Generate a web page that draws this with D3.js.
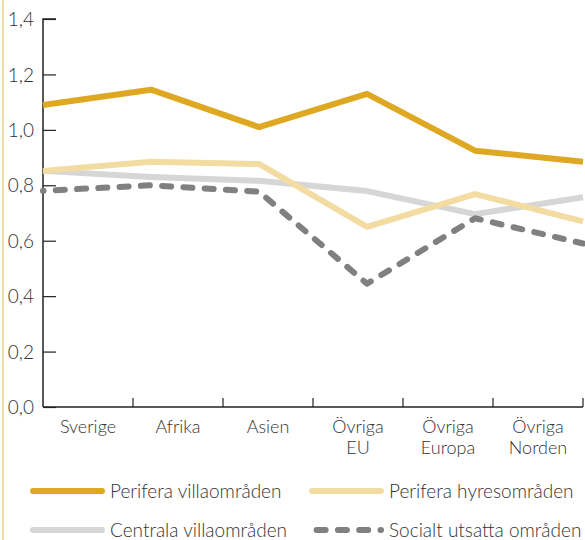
<!DOCTYPE html>
<html><head><meta charset="utf-8">
<script src="https://cdn.jsdelivr.net/npm/d3@7"></script>
<style>
body{margin:0;background:#fff;}
svg{display:block;font-family:Lato,"Open Sans",sans-serif;font-weight:300;}
</style></head>
<body><svg id="c" width="585" height="540"></svg>
<script>
const categories = ["Sverige","Afrika","Asien","Övriga EU","Övriga Europa","Övriga Norden"];
const perVilla   = [1.09, 1.145, 1.01, 1.13, 0.925, 0.885];
const perHyres   = [0.852, 0.885, 0.877, 0.65, 0.768, 0.67];
const centVilla  = [0.852, 0.83, 0.816, 0.779, 0.696, 0.757];
const socUtsatt  = [0.78, 0.8, 0.777, 0.445, 0.681, 0.59];
const yTicks = [0,0.2,0.4,0.6,0.8,1.0,1.2,1.4];
const seriesNames = ["Perifera villaområden","Perifera hyresområden","Centrala villaområden","Socialt utsatta områden"];

const series = [
  {name:seriesNames[0], values:perVilla, color:"#dfa823", dash:false},
  {name:seriesNames[1], values:perHyres, color:"#f3dca2", dash:false},
  {name:seriesNames[2], values:centVilla, color:"#d6d6d6", dash:false},
  {name:seriesNames[3], values:socUtsatt, color:"#808080", dash:true}
];
const drawOrder = [2,1,3,0];

const svg = d3.select("#c");
const pLeft=43, pRight=583, pTop=19, pBottom=407;
const fs = "19px";

// left border line
svg.append("line").attr("x1",3).attr("x2",3).attr("y1",0).attr("y2",540)
  .attr("stroke","#ecd08a").attr("stroke-width",1.5);

const y = d3.scaleLinear().domain([0,1.4]).range([pBottom,pTop]);
const xp = d3.scalePoint().domain(categories).range([pLeft,pRight]);
const xb = d3.scaleBand().domain(categories).range([pLeft,pRight]);

// y axis
const yAxis = d3.axisRight(y).tickValues(yTicks).tickSize(13).tickFormat(d=>d3.format(".1f")(d).replace(".",",")).tickPadding(0);
const gy = svg.append("g").attr("transform",`translate(${pLeft},0)`).call(yAxis);
gy.select(".domain").attr("stroke","#222").attr("stroke-width",1.5).attr("d",`M13,${pTop}H0V${pBottom}`);
gy.selectAll(".tick line").attr("stroke","#222").attr("stroke-width",1.2);
gy.selectAll(".tick text").attr("x",-9).attr("text-anchor","end").attr("dy","0.35em")
  .attr("fill","#333").style("font-size",fs).style("font-family","Lato, sans-serif").style("font-weight",300);

// x axis
const gx = svg.append("g").attr("transform",`translate(0,${pBottom})`);
gx.append("line").attr("x1",pLeft).attr("x2",pRight).attr("stroke","#222").attr("stroke-width",1.5);
const bounds = categories.map(c=>xb(c)+xb.bandwidth());
gx.selectAll("line.tk").data(bounds).join("line").attr("class","tk")
  .attr("x1",d=>d).attr("x2",d=>d).attr("y1",0).attr("y2",-9).attr("stroke","#222").attr("stroke-width",1.2);
categories.forEach(d=>{
  d.split(" ").forEach((p,i)=>{
    gx.append("text").attr("x",xb(d)+xb.bandwidth()/2).attr("y",26+i*21)
      .attr("text-anchor","middle").attr("fill","#333").style("font-size","18px").text(p);
  });
});

// lines
const line = d3.line().x((d,i)=>xp(categories[i])).y(d=>y(d));
drawOrder.forEach(k=>{
  const s = series[k];
  const p = svg.append("path").attr("d",line(s.values)).attr("fill","none")
    .attr("stroke",s.color).attr("stroke-width",6).attr("stroke-linejoin","round");
  if(s.dash){ p.attr("stroke-dasharray","9,12.3").attr("stroke-dashoffset",8.5).attr("stroke-linecap","round"); }
});

// legend
const legPos = [[33,491],[312,491],[33,530],[312,530]];
series.forEach((s,i)=>{
  const [lx,ly] = legPos[i];
  const g = svg.append("g");
  const l = g.append("path").attr("fill","none").attr("stroke",s.color).attr("stroke-width",6);
  if(s.dash){
    l.attr("d",`M${lx+69},${ly}H${lx-2}`).attr("stroke-dasharray","9,12.3").attr("stroke-dashoffset",8.5).attr("stroke-linecap","round");
  } else {
    l.attr("d",`M${lx},${ly}H${lx+69}`).attr("stroke-linecap","round");
  }
  g.append("text").attr("x",lx+77).attr("y",ly).attr("dy","0.35em").attr("fill","#333")
    .style("font-size",fs).text(s.name);
});
</script></body></html>
